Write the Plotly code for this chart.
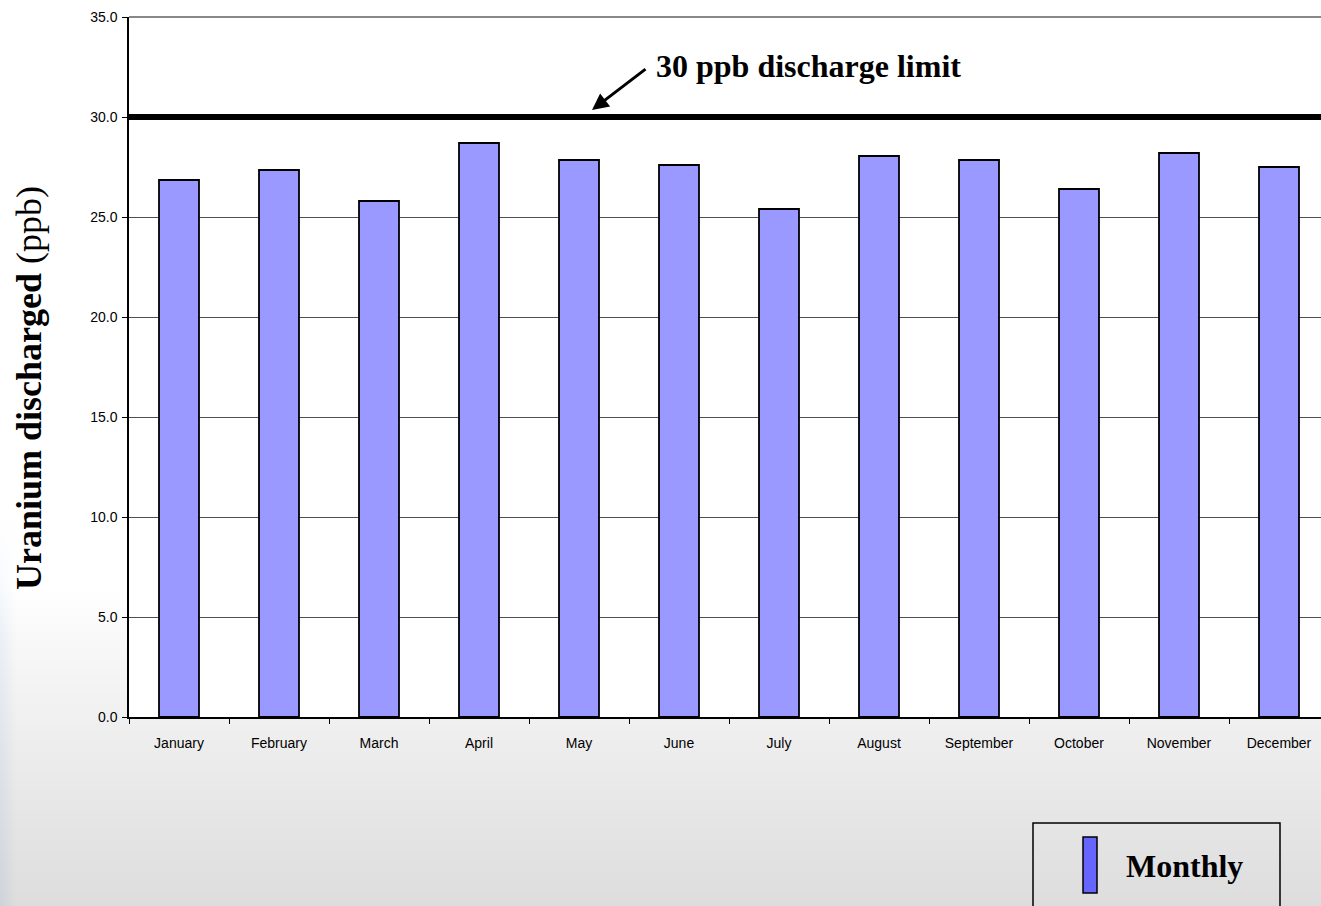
import zlib, struct, base64
import plotly.graph_objects as go

# ---------------- data ----------------
months = ["January", "February", "March", "April", "May", "June", "July",
          "August", "September", "October", "November", "December"]
uranium_ppb = [26.85, 27.35, 25.8, 28.7, 27.85, 27.6, 25.4, 28.05, 27.85, 26.4, 28.2, 27.5]
limit_ppb = 30
y_ticks = [0, 5, 10, 15, 20, 25, 30, 35]
series_name = "Monthly"
limit_label = "30 ppb discharge limit"

# ---------------- layout geometry ----------------
W, H = 1321, 906
ML, MT = 129, 17
MB = H - 717
MR = 0
PW, PH = W - ML - MR, H - MT - MB


def px_x(px):  # screen px -> paper
    return (px - ML) / PW


def px_y(py):
    return (H - MB - py) / PH


# ---------------- background gradient as PNG ----------------
def make_png(w, h):
    rows = []
    for y in range(h):
        t = 0.0 if y < 590 else (y - 590) / (906 - 590)
        g = int(round(255 - 34 * (t ** 0.9)))
        row = bytearray()
        edge = 16
        for x in range(edge):
            if y > 520:
                f = (1 - x / edge) * min(1.0, (y - 520) / 120)
                r = int(g - 14 * f)
                gg = int(g - 9 * f)
                b = int(g - 3 * f)
            else:
                r = gg = b = g
            row += bytes((max(r, 0), max(gg, 0), max(b, 0)))
        row += bytes((g, g, g)) * (w - edge)
        rows.append(b"\x00" + bytes(row))
    raw = b"".join(rows)

    def chunk(tag, data):
        c = struct.pack(">I", len(data)) + tag + data
        return c + struct.pack(">I", zlib.crc32(tag + data) & 0xffffffff)

    png = b"\x89PNG\r\n\x1a\n"
    png += chunk(b"IHDR", struct.pack(">IIBBBBB", w, h, 8, 2, 0, 0, 0))
    png += chunk(b"IDAT", zlib.compress(raw, 9))
    png += chunk(b"IEND", b"")
    return "data:image/png;base64," + base64.b64encode(png).decode()


bg_uri = make_png(W, H)

fig = go.Figure()
fig.add_trace(go.Bar(
    x=months, y=uranium_ppb, name=series_name, width=0.4,
    marker=dict(color="#9999FF", line=dict(color="black", width=1.8)),
    showlegend=False,
))

# limit line
fig.add_hline(y=limit_ppb, line=dict(color="black", width=6))

# arrow
fig.add_annotation(x=4.13, y=30.35, xref="x", yref="y", text="",
                   showarrow=True, ax=55, ay=-42, arrowhead=2, arrowsize=1.1,
                   arrowwidth=3, arrowcolor="black")
# label
fig.add_annotation(x=px_x(654), y=px_y(66), xref="paper", yref="paper",
                   xanchor="left", yanchor="middle", showarrow=False,
                   text="<b>" + limit_label + "</b>",
                   font=dict(family="Liberation Serif", size=32, color="black"))

# y axis title as annotation
fig.add_annotation(x=px_x(29), y=px_y(388), xref="paper", yref="paper",
                   xanchor="center", yanchor="middle", showarrow=False, textangle=-90,
                   text="<b>Uranium discharged</b> (ppb)",
                   font=dict(family="Liberation Serif", size=36, color="black"))

# custom legend
fig.add_shape(type="rect", xref="paper", yref="paper",
              x0=px_x(1033), x1=px_x(1280), y0=px_y(918), y1=px_y(823),
              line=dict(color="black", width=1.5), fillcolor="rgba(0,0,0,0)")
fig.add_shape(type="rect", xref="paper", yref="paper",
              x0=px_x(1083), x1=px_x(1097), y0=px_y(893), y1=px_y(837),
              line=dict(color="black", width=1.5), fillcolor="#6666FF")
fig.add_annotation(x=px_x(1124), y=px_y(866), xref="paper", yref="paper",
                   xanchor="left", yanchor="middle", showarrow=False,
                   text="<b>" + series_name + "</b>",
                   font=dict(family="Liberation Serif", size=32, color="black"))

# white plot area above the gradient image
fig.add_shape(type="rect", xref="x domain", yref="y domain", x0=0, x1=1, y0=0, y1=1,
              fillcolor="white", line=dict(width=0), layer="below")
# top border
fig.add_shape(type="line", xref="x domain", yref="y domain", x0=0, x1=1, y0=1, y1=1,
              line=dict(color="#888888", width=2))

fig.update_layout(
    width=W, height=H,
    margin=dict(l=ML, r=MR, t=MT, b=MB, pad=0),
    paper_bgcolor="white", plot_bgcolor="white",
    showlegend=False,
    images=[dict(source=bg_uri, xref="paper", yref="paper",
                 x=-ML / PW, y=1 + MT / PH, sizex=W / PW, sizey=H / PH,
                 xanchor="left", yanchor="top", sizing="stretch", layer="below")],
    font=dict(family="Liberation Sans", size=14, color="black"),
)

fig.update_xaxes(
    type="category", range=[-0.5, -0.5 + PW / 100],
    showline=True, linecolor="black", linewidth=1.5,
    ticks="outside", tickson="boundaries", ticklen=5, tickcolor="black", tickwidth=1,
    ticklabelstandoff=12,
    showgrid=False, tickfont=dict(family="Liberation Sans", size=14, color="black"),
)
fig.update_yaxes(
    range=[0, 35], tickvals=y_ticks, ticktext=[f"{v:.1f}" for v in y_ticks],
    showline=True, linecolor="black", linewidth=1.5,
    ticks="outside", ticklen=5, tickcolor="black", tickwidth=1,
    ticklabelstandoff=2,
    showgrid=True, gridcolor="#505050", gridwidth=1, zeroline=False,
    tickfont=dict(family="Liberation Sans", size=14, color="black"),
)

fig.write_html(
    "out.html",
    config={"displayModeBar": False},
    post_script="document.body.style.margin='0';document.body.style.overflow='hidden';",
)
